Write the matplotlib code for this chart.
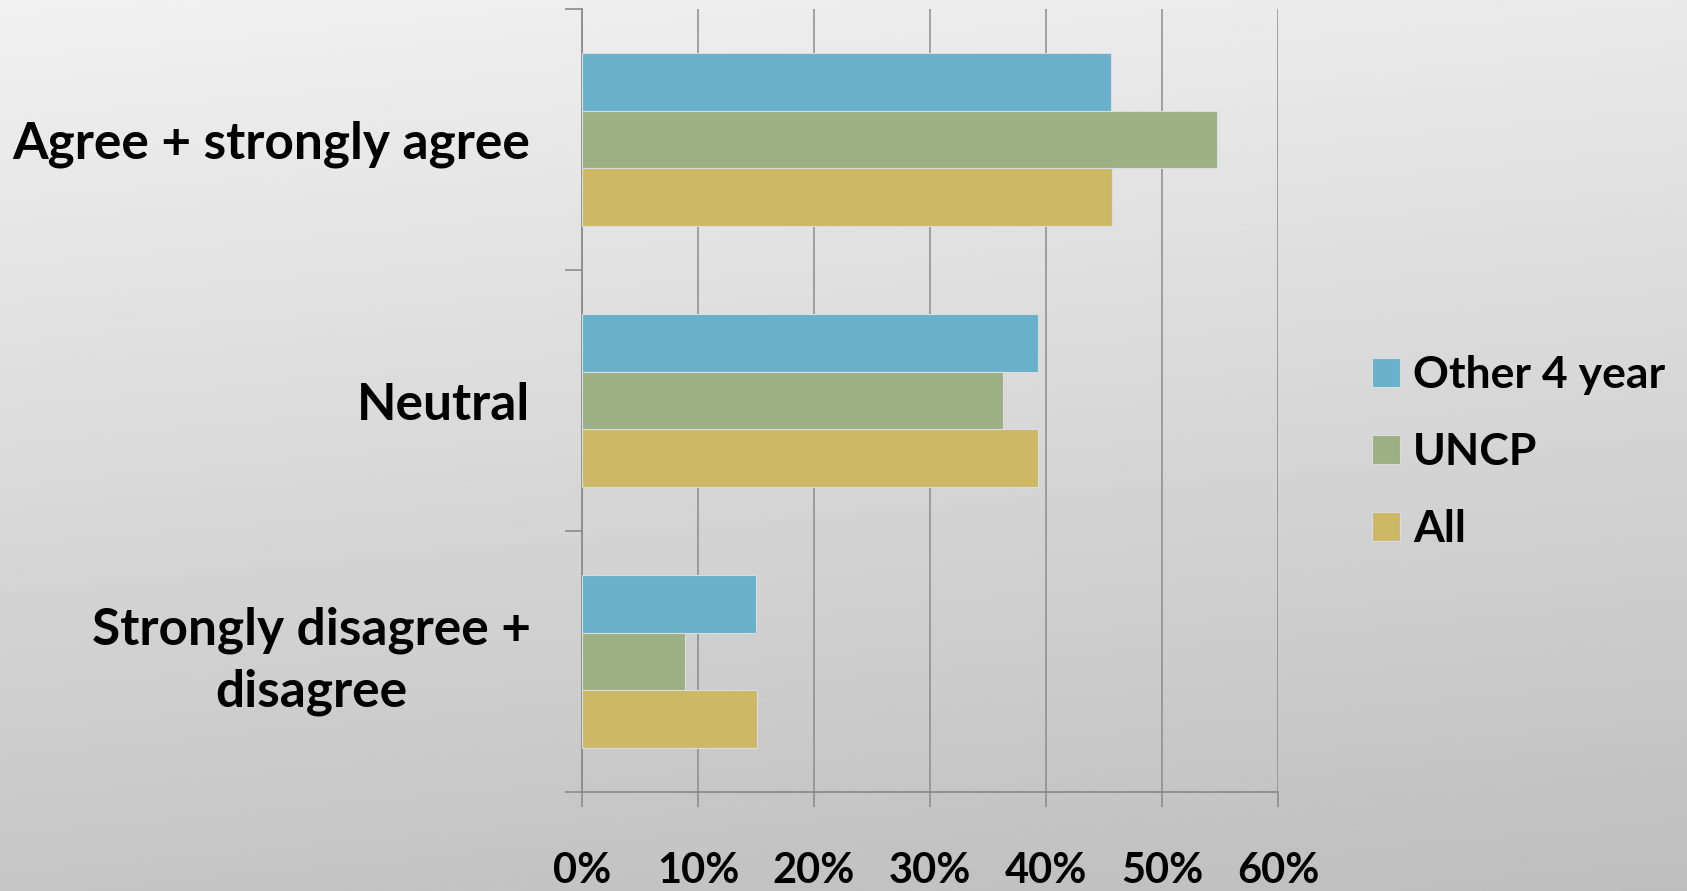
import numpy as np
import matplotlib
matplotlib.use("Agg")
import matplotlib.pyplot as plt
from matplotlib.ticker import FixedLocator

# data (percent)
categories = ["Agree + strongly agree", "Neutral", "Strongly disagree +\ndisagree"]
series = ["Other 4 year", "UNCP", "All"]
other_4_year = [45.6, 39.3, 15.0]
uncp = [54.7, 36.3, 8.9]
all_resp = [45.7, 39.3, 15.1]
x_ticks = [0, 10, 20, 30, 40, 50, 60]
x_labels = ["0%", "10%", "20%", "30%", "40%", "50%", "60%"]
colors = ["#69b0cb", "#9db083", "#cdb866"]

plt.rcParams['font.family'] = ['Lato', 'DejaVu Sans']
plt.rcParams['font.weight'] = 'bold'

W, H = 1687, 891
fig = plt.figure(figsize=(W / 100, H / 100), dpi=100)

# grey gradient background
bg = fig.add_axes([0, 0, 1, 1], zorder=-10)
yy, xx = np.mgrid[0:1:300j, 0:1:300j]
grad = 0.945 - 0.2 * (0.85 * yy + 0.15 * xx)
bg.imshow(grad, cmap='gray', vmin=0, vmax=1, aspect='auto',
          extent=[0, 1, 0, 1], origin='upper', interpolation='bilinear')
bg.axis('off')

left, right, top, bottom = 582, 1278, 9, 792
ax = fig.add_axes([left / W, 1 - bottom / H, (right - left) / W, (bottom - top) / H])
ax.patch.set_alpha(0)

h = 0.221
pos = np.arange(len(categories))
for vals, off, col, name in zip([other_4_year, uncp, all_resp], [-h, 0, h], colors, series):
    ax.barh(pos + off, vals, height=h, color=col, edgecolor='#d8dde0',
            linewidth=0.8, label=name, zorder=3)

ax.set_xlim(0, 60)
ax.set_ylim(2.5, -0.5)

grid_col = '#8c8c8c'
ax.set_xticks(x_ticks)
ax.set_xticklabels(x_labels, fontsize=30)
ax.tick_params(axis='x', length=11, width=1.2, color=grid_col, pad=32)
ax.grid(axis='x', color=grid_col, linewidth=1.1, zorder=0)

# category boundary ticks, labels at centres
ax.yaxis.set_major_locator(FixedLocator([-0.5, 0.5, 1.5, 2.5]))
ax.set_yticklabels([])
ax.yaxis.set_minor_locator(FixedLocator(pos))
labels = ax.set_yticklabels(categories, minor=True, fontsize=37, multialignment='center',
                            linespacing=1.38)
for lab in labels:
    if '\n' in lab.get_text():
        lab.set_verticalalignment('center')
ax.tick_params(axis='y', which='major', length=12, width=1.2, color=grid_col)
ax.tick_params(axis='y', which='minor', length=0, pad=37)

for s in ['top', 'right']:
    ax.spines[s].set_visible(False)
for s in ['left', 'bottom']:
    ax.spines[s].set_color(grid_col)
    ax.spines[s].set_linewidth(1.3)

fig.legend(loc='center left', bbox_to_anchor=(1372 / W, 1 - 452 / H), frameon=False,
           fontsize=32, handlelength=0.62, handleheight=0.62, handletextpad=0.3,
           labelspacing=0.83, borderpad=0, borderaxespad=0)

fig.savefig('out.png', dpi=100)
